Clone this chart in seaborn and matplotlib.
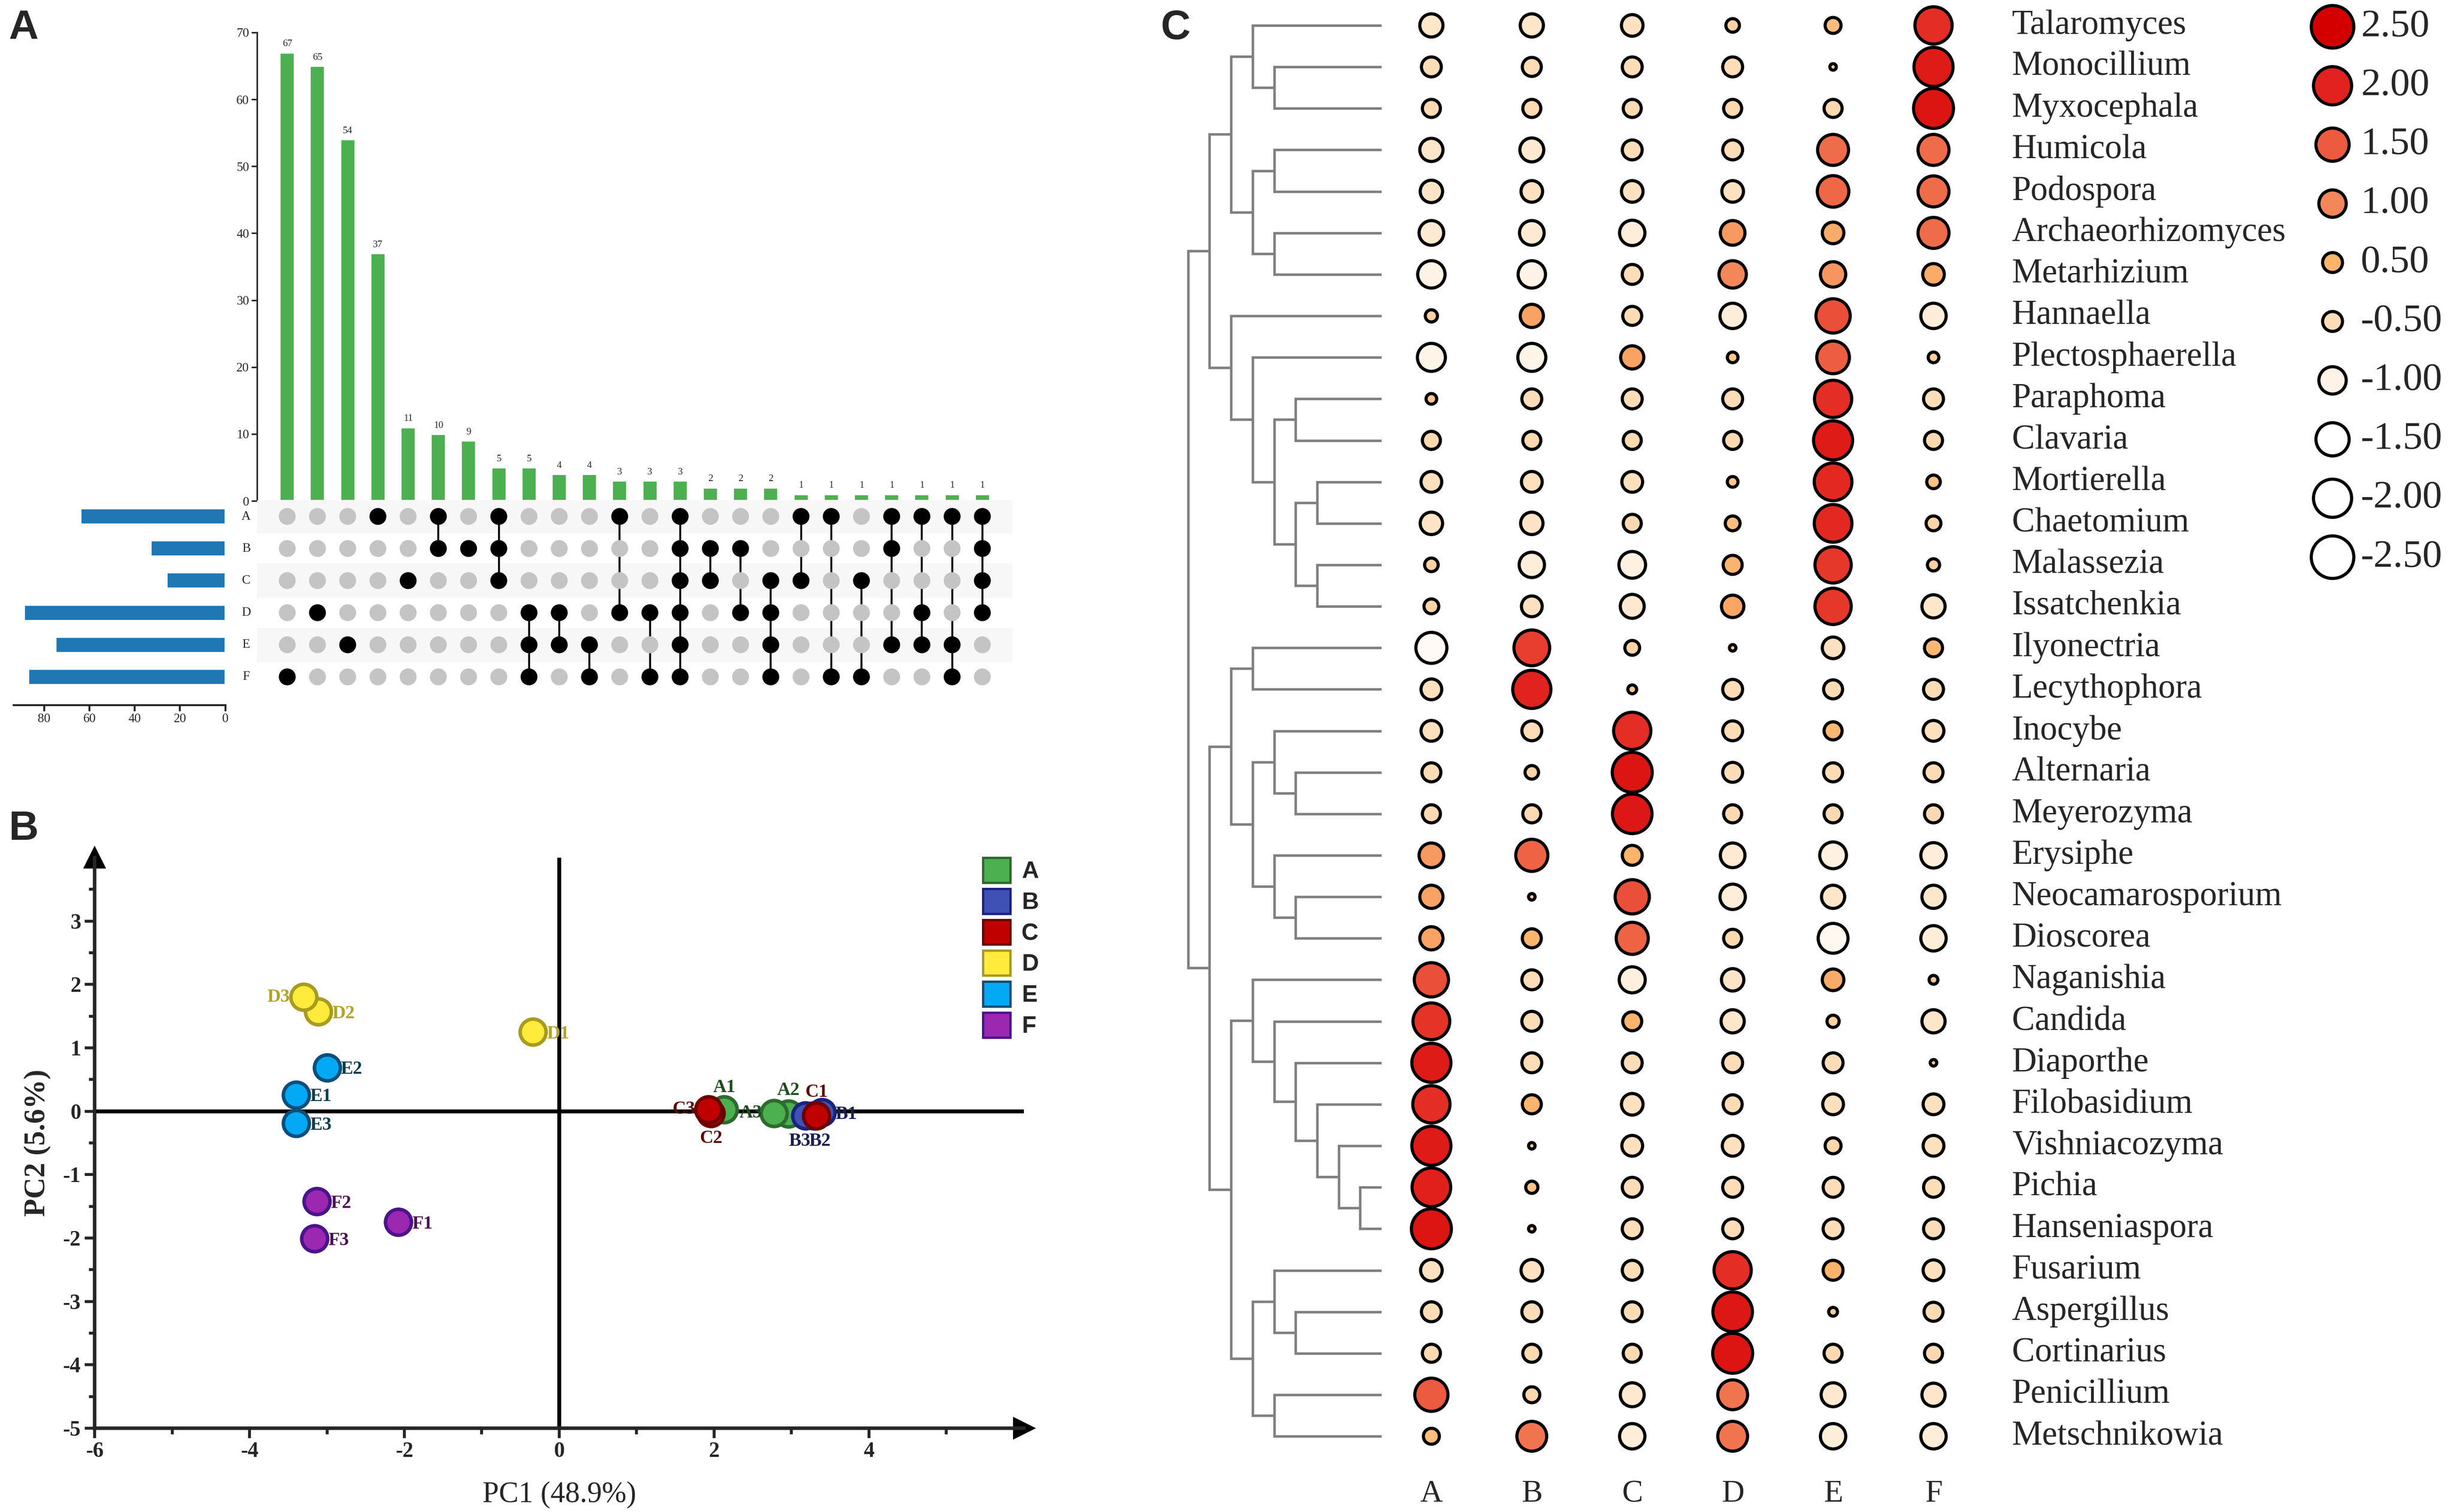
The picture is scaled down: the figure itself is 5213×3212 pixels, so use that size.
import numpy as np
import pandas as pd
import matplotlib
matplotlib.use("Agg")
import matplotlib.pyplot as plt
from matplotlib.colors import LinearSegmentedColormap
from matplotlib.patches import Patch
import seaborn as sns

sns.set_style("white")
plt.rcParams['font.family'] = ['Liberation Serif', 'DejaVu Serif']
plt.rcParams['axes.unicode_minus'] = False

# ---------------- data ----------------
# A: UpSet
set_names = ['A', 'B', 'C', 'D', 'E', 'F']
set_sizes = [64, 33, 26, 89, 75, 87]
inter_sets = ['F', 'D', 'E', 'A', 'C', 'AB', 'B', 'ABC', 'DEF', 'DE', 'EF', 'AD',
              'DF', 'ABCDEF', 'BC', 'BD', 'CDEF', 'AC', 'AF', 'CF', 'ABE', 'ADE',
              'AEF', 'ABCD']
inter_counts = [67, 65, 54, 37, 11, 10, 9, 5, 5, 4, 4, 3, 3, 3, 2, 2, 2, 1, 1, 1, 1, 1, 1, 1]

# B: PCA
samples = ['A1', 'A2', 'A3', 'B1', 'B2', 'B3', 'C1', 'C2', 'C3',
           'D1', 'D2', 'D3', 'E1', 'E2', 'E3', 'F1', 'F2', 'F3']
pc1 = [2.13, 2.96, 2.77, 3.39, 3.29, 3.18, 3.32, 1.96, 1.93,
       -0.34, -3.11, -3.30, -3.40, -3.00, -3.40, -2.08, -3.13, -3.16]
pc2 = [0.03, -0.04, -0.03, -0.02, -0.07, -0.07, -0.07, -0.03, 0.03,
       1.25, 1.57, 1.80, 0.26, 0.69, -0.19, -1.75, -1.42, -2.01]

# C: bubble heatmap (z-scores) + dendrogram
genera = ['Talaromyces', 'Monocillium', 'Myxocephala', 'Humicola', 'Podospora',
          'Archaeorhizomyces', 'Metarhizium', 'Hannaella', 'Plectosphaerella',
          'Paraphoma', 'Clavaria', 'Mortierella', 'Chaetomium', 'Malassezia',
          'Issatchenkia', 'Ilyonectria', 'Lecythophora', 'Inocybe', 'Alternaria',
          'Meyerozyma', 'Erysiphe', 'Neocamarosporium', 'Dioscorea', 'Naganishia',
          'Candida', 'Diaporthe', 'Filobasidium', 'Vishniacozyma', 'Pichia',
          'Hanseniaspora', 'Fusarium', 'Aspergillus', 'Cortinarius', 'Penicillium',
          'Metschnikowia']
z_A = [-0.7, -0.5, -0.4, -0.7, -0.65, -0.8, -1.0, -0.15, -1.05, 0.1, -0.4, -0.55,
       -0.65, -0.2, -0.25, -1.3, -0.55, -0.55, -0.45, -0.4, 0.8, 0.7, 0.7, 1.6,
       1.85, 2.1, 1.9, 2.1, 2.05, 2.2, -0.6, -0.5, -0.4, 1.5, 0.3]
z_B = [-0.7, -0.45, -0.4, -0.75, -0.6, -0.8, -1.0, 0.7, -1.05, -0.5, -0.4, -0.55,
       -0.65, -0.85, -0.55, 1.75, 2.0, -0.5, -0.2, -0.4, 1.4, 0.0, 0.45, -0.5,
       -0.5, -0.5, 0.45, 0.0, 0.15, 0.0, -0.6, -0.5, -0.4, -0.3, 1.2]
z_C = [-0.6, -0.5, -0.4, -0.5, -0.6, -0.85, -0.5, -0.45, 0.7, -0.5, -0.4, -0.55,
       -0.4, -0.95, -0.75, -0.25, 0.05, 1.9, 2.2, 2.15, 0.5, 1.6, 1.4, -0.9,
       0.45, -0.5, -0.6, -0.55, -0.5, -0.5, -0.5, -0.5, -0.4, -0.75, -0.85]
z_D = [-0.2, -0.5, -0.4, -0.5, -0.6, 0.8, 1.0, -0.85, 0.1, -0.5, -0.4, 0.1,
       0.25, 0.45, 0.65, 0.0, -0.5, -0.5, -0.5, -0.4, -0.8, -0.85, -0.4, -0.65,
       -0.7, -0.5, -0.45, -0.55, -0.5, -0.5, 1.9, 2.15, 2.2, 1.2, 1.2]
z_E = [0.3, 0.0, -0.4, 1.3, 1.35, 0.6, 0.85, 1.6, 1.45, 1.9, 2.1, 1.95,
       1.95, 1.8, 1.8, -0.6, -0.45, 0.4, -0.45, -0.4, -0.95, -0.7, -1.2, 0.6,
       -0.15, -0.5, -0.55, -0.3, -0.5, -0.5, 0.5, 0.05, -0.4, -0.75, -0.85]
z_F = [1.9, 2.1, 2.2, 1.3, 1.3, 1.3, 0.6, -0.85, -0.1, -0.5, -0.4, 0.2,
       -0.25, -0.15, -0.7, 0.4, -0.5, -0.55, -0.45, -0.4, -0.85, -0.7, -0.85, 0.05,
       -0.7, 0.0, -0.55, -0.55, -0.5, -0.5, -0.55, -0.45, -0.4, -0.7, -0.85]
legend_vals = [2.5, 2.0, 1.5, 1.0, 0.5, -0.5, -1.0, -1.5, -2.0, -2.5]

# dendrogram: (left, right, merge level)
tree = (
    ((('Talaromyces', ('Monocillium', 'Myxocephala', 5), 6),
      (('Humicola', 'Podospora', 5), ('Archaeorhizomyces', 'Metarhizium', 5), 6), 7),
     ('Hannaella', ('Plectosphaerella',
                    (('Paraphoma', 'Clavaria', 4),
                     (('Mortierella', 'Chaetomium', 3), ('Malassezia', 'Issatchenkia', 3), 4), 5),
                    6), 7), 8),
    ((('Ilyonectria', 'Lecythophora', 6),
      (('Inocybe', ('Alternaria', 'Meyerozyma', 4), 5),
       ('Erysiphe', ('Neocamarosporium', 'Dioscorea', 4), 5), 6), 7),
     (('Naganishia', ('Candida', ('Diaporthe', ('Filobasidium',
                                                 ('Vishniacozyma', ('Pichia', 'Hanseniaspora', 1), 2),
                                                 3), 4), 5), 6),
      (('Fusarium', ('Aspergillus', 'Cortinarius', 4), 5), ('Penicillium', 'Metschnikowia', 5), 6), 7), 8),
    9)

# ---------------- layout helpers ----------------
W, H, DPI = 5213, 3212, 300


def box(x0, y0, x1, y1):
    return [x0 / W, 1 - y1 / H, (x1 - x0) / W, (y1 - y0) / H]


fig = plt.figure(figsize=(W / DPI, H / DPI), dpi=DPI)
sans = ['Liberation Sans', 'DejaVu Sans']

# ---------------- panel A ----------------
ax_bar = fig.add_axes(box(546, 69, 2151, 1064))
sns.barplot(x=inter_sets, y=inter_counts, color='#4CAF50', saturation=1, width=0.5, ax=ax_bar)
ax_bar.bar_label(ax_bar.containers[0], fontsize=5, padding=2)
ax_bar.set_xlim(-1, 24)
ax_bar.set_ylim(0, 70)
ax_bar.set_yticks(range(0, 71, 10))
ax_bar.set_xticks([])
ax_bar.set_xlabel('')
ax_bar.set_ylabel('')
for s in ['top', 'right', 'bottom']:
    ax_bar.spines[s].set_visible(False)
ax_bar.spines['left'].set_linewidth(0.8)
ax_bar.tick_params(axis='y', left=True, length=3, width=0.8, labelsize=6.5, pad=1)

ax_mat = fig.add_axes(box(546, 1063, 2151, 1472))
ax_mat.set_xlim(-1, 24)
ax_mat.set_ylim(5.5, -0.5)
for i in range(0, 6, 2):
    ax_mat.axhspan(i - 0.5, i + 0.5, color='#F7F7F7', zorder=0)
rows = []
for c, members in enumerate(inter_sets):
    for r, s in enumerate(set_names):
        rows.append({'col': c, 'row': r, 'state': 'on' if s in members else 'off'})
mat_df = pd.DataFrame(rows)
for c, members in enumerate(inter_sets):
    idx = [set_names.index(s) for s in members]
    if len(idx) > 1:
        ax_mat.vlines(c, min(idx), max(idx), color='black', lw=1.0, zorder=1)
sns.scatterplot(data=mat_df, x='col', y='row', hue='state',
                palette={'on': 'black', 'off': '#C4C4C4'}, s=74, linewidth=0,
                legend=False, ax=ax_mat, zorder=2)
ax_mat.set_axis_off()
for r, s in enumerate(set_names):
    ax_mat.text(-1.36, r, s, ha='center', va='center', fontsize=6.5)

ax_set = fig.add_axes(box(28.6, 1063, 478.6, 1498))
sns.barplot(x=set_sizes, y=set_names, orient='h', color='#1F77B4', saturation=1,
            width=0.5, ax=ax_set)
ax_set.set_xlim(93.6, 0)
ax_set.set_ylim(5.88, -0.5)
ax_set.set_xticks([80, 60, 40, 20, 0])
ax_set.set_yticks([])
ax_set.set_xlabel('')
ax_set.set_ylabel('')
for s in ['top', 'right', 'left']:
    ax_set.spines[s].set_visible(False)
ax_set.spines['bottom'].set_linewidth(1.0)
ax_set.tick_params(axis='x', bottom=True, length=3, width=1.0, labelsize=6.5, pad=1)

# ---------------- panel B ----------------
groups = ['A', 'B', 'C', 'D', 'E', 'F']
fill = {'A': '#4CAF50', 'B': '#3F51B5', 'C': '#C00000', 'D': '#FFEB3B', 'E': '#03A9F4', 'F': '#9C27B0'}
edge = {'A': '#2E6B30', 'B': '#1A237E', 'C': '#6E0000', 'D': '#A89B20', 'E': '#0D4F7A', 'F': '#4A148C'}
text_col = {'A': '#1E4D1E', 'B': '#1A1F4D', 'C': '#5A0A0A', 'D': '#B0A428', 'E': '#0F3B4C', 'F': '#4A1050'}
label_pos = {'D3': (-7, 0, 'right'), 'C3': (-7, 0, 'right'), 'A3': (-6, 0, 'right'),
             'A1': (0, 11, 'center'), 'A2': (0, 12, 'center'), 'C1': (0, 12, 'center'),
             'C2': (0, -13, 'center'), 'B3': (-3, -13, 'center'), 'B2': (3, -13, 'center')}

ax_pca = fig.add_axes(box(201, 1822, 2175, 3034))
pca_df = pd.DataFrame({'sample': samples, 'pc1': pc1, 'pc2': pc2})
pca_df['group'] = pca_df['sample'].str[0]
ax_pca.axhline(0, color='black', lw=2.0, zorder=1)
ax_pca.axvline(0, color='black', lw=2.0, zorder=1)
for g in groups:
    sub = pca_df[pca_df['group'] == g]
    sns.scatterplot(data=sub, x='pc1', y='pc2', color=fill[g], edgecolor=edge[g],
                    s=175, linewidth=1.8, legend=False, ax=ax_pca, zorder=3)
for _, r in pca_df.iterrows():
    dx, dy, ha = label_pos.get(r['sample'], (7, -1, 'left'))
    ax_pca.annotate(r['sample'], (r['pc1'], r['pc2']), xytext=(dx, dy),
                    textcoords='offset points', ha=ha, va='center', fontsize=9.5,
                    fontweight='bold', color=text_col[r['group']], zorder=4)
ax_pca.set_xlim(-6, 6.0)
ax_pca.set_ylim(-5, 4)
xt = [-6, -4, -2, 0, 2, 4]
yt = list(range(-5, 4))
ax_pca.set_xticks(xt)
ax_pca.set_xticklabels([str(v) for v in xt], fontweight='bold', fontsize=11)
ax_pca.set_xticks([-5, -3, -1, 1, 3, 5], minor=True)
ax_pca.set_yticks(yt)
ax_pca.set_yticklabels([str(v) for v in yt], fontweight='bold', fontsize=11)
ax_pca.set_yticks(np.arange(-4.5, 4, 1), minor=True)
for s in ['top', 'right']:
    ax_pca.spines[s].set_visible(False)
for s in ['left', 'bottom']:
    ax_pca.spines[s].set_linewidth(1.8)
ax_pca.tick_params(which='both', bottom=True, left=True, direction='out', width=1.5)
ax_pca.tick_params(which='major', length=5, pad=2)
ax_pca.tick_params(which='minor', length=3)
ax_pca.plot(1, 0, '>k', ms=10, transform=ax_pca.transAxes, clip_on=False)
ax_pca.plot(0, 1, '^k', ms=10, transform=ax_pca.transAxes, clip_on=False)
ax_pca.set_xlabel('PC1 (48.9%)', fontsize=15, labelpad=10)
ax_pca.set_ylabel('PC2 (5.6%)', fontsize=15, fontweight='bold', labelpad=6)
handles = [Patch(facecolor=fill[g], edgecolor=edge[g], lw=1.2, label=g) for g in groups]
ax_pca.legend(handles=handles, loc='upper left', bbox_to_anchor=(2088 / W, 1 - 1822 / H),
              bbox_transform=fig.transFigure, frameon=False,
              prop={'family': sans, 'weight': 'bold', 'size': 12},
              handlelength=1.15, handleheight=1.25, labelspacing=0.25, handletextpad=0.5,
              borderaxespad=0, borderpad=0)

# ---------------- panel C ----------------
row_top = -54 / 88.15
row_bot = (3212 - 54) / 88.15
cmap = LinearSegmentedColormap.from_list('bub', [
    (0.0, '#FFFFFF'), (0.2, '#FFFFFF'), (0.3, '#FEF3E6'), (0.4, '#FDDDB8'),
    (0.5, '#FDCB96'), (0.6, '#FCB36A'), (0.7, '#F3885A'), (0.8, '#EC5A3F'),
    (0.9, '#E2231F'), (1.0, '#D40000')])

bub = pd.DataFrame({'genus': genera, 'A': z_A, 'B': z_B, 'C': z_C,
                    'D': z_D, 'E': z_E, 'F': z_F})
bub_long = bub.melt(id_vars='genus', var_name='group', value_name='z')
bub_long['col'] = bub_long['group'].map({g: i for i, g in enumerate(groups)})
bub_long['row'] = bub_long['genus'].map({g: i for i, g in enumerate(genera)})
bub_long['absz'] = bub_long['z'].abs()

ax_bub = fig.add_axes(box(2934, 0, 4214, 3212))
sns.scatterplot(data=bub_long, x='col', y='row', hue='z', size='absz', palette=cmap,
                hue_norm=(-2.5, 2.5), sizes=(11, 470), size_norm=(0, 2.5),
                edgecolor='black', linewidth=1.6, legend=False, ax=ax_bub)
ax_bub.set_xlim(-0.5, 5.5)
ax_bub.set_ylim(row_bot, row_top)
ax_bub.set_axis_off()
for i, g in enumerate(genera):
    ax_bub.text(5.78, i, g, ha='left', va='center', fontsize=17.5)
for i, g in enumerate(groups):
    ax_bub.text(i, 35.39, g, ha='center', va='center', fontsize=16)

ax_tree = fig.add_axes(box(2500, 0, 2935, 3212))
ax_tree.set_xlim(9.52, 0)
ax_tree.set_ylim(row_bot, row_top)
ax_tree.set_axis_off()
row_of = {g: i for i, g in enumerate(genera)}


def draw_tree(node):
    if isinstance(node, str):
        return row_of[node], 0
    left, right, h = node
    yl, hl = draw_tree(left)
    yr, hr = draw_tree(right)
    ax_tree.plot([hl, h, h, hr], [yl, yl, yr, yr], color='#808080', lw=1.3,
                 solid_joinstyle='miter', solid_capstyle='butt')
    return (yl + yr) / 2, h


draw_tree(tree)

ax_leg = fig.add_axes(box(4880, 0, 5213, 1250))
leg_df = pd.DataFrame({'v': legend_vals, 'row': range(len(legend_vals))})
leg_df['absv'] = leg_df['v'].abs()
leg_df['x'] = 75
sns.scatterplot(data=leg_df, x='x', y='row', hue='v', size='absv', palette=cmap,
                hue_norm=(-2.5, 2.5), sizes=(11, 470), size_norm=(0, 2.5),
                edgecolor='black', linewidth=1.6, legend=False, ax=ax_leg)
for i, v in enumerate(legend_vals):
    ax_leg.text(135, i, f'{v:.2f}', ha='left', va='center', fontsize=20)
ax_leg.set_xlim(0, 333)
ax_leg.set_ylim(9.53, -0.455)
ax_leg.set_axis_off()

# panel letters
for lbl, (px, py) in {'A': (50, 60), 'B': (50, 1762), 'C': (2497, 60)}.items():
    fig.text(px / W, 1 - py / H, lbl, ha='center', va='center', fontsize=21,
             fontweight='bold', family=sans)

fig.savefig('out.png', dpi=DPI)
